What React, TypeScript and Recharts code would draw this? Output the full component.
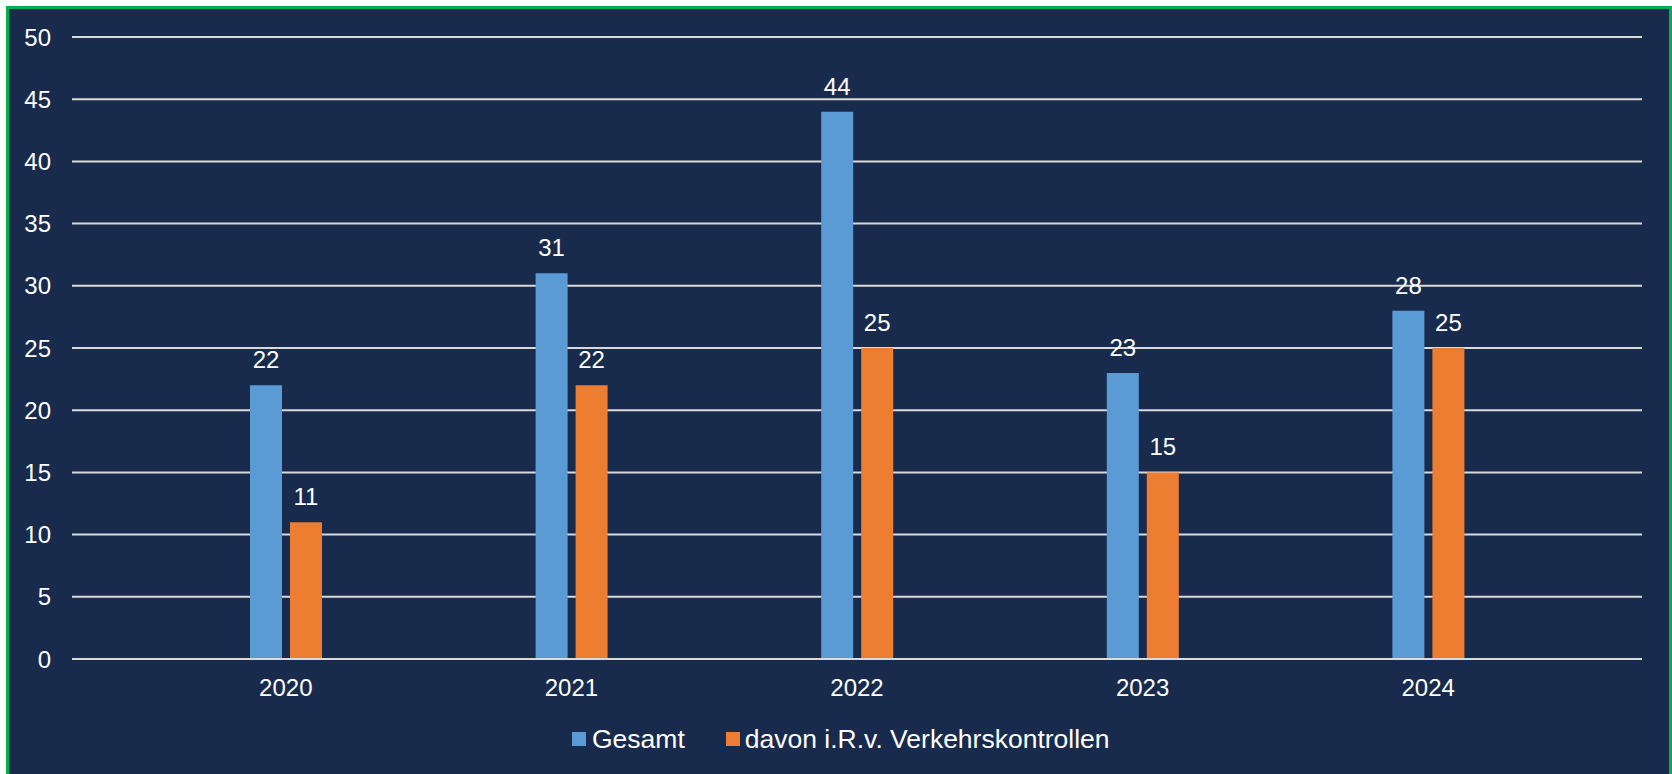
import { BarChart, Bar, XAxis, YAxis, CartesianGrid, Legend, LabelList } from 'recharts';

const years = ['2020', '2021', '2022', '2023', '2024'];
const gesamt = [22, 31, 44, 23, 28];
const verkehrskontrollen = [11, 22, 25, 15, 25];
const yTicks = [0, 5, 10, 15, 20, 25, 30, 35, 40, 45, 50];

const BG = '#182B4D';
const BLUE = '#5B9BD5';
const ORANGE = '#ED7D31';
const GRID = '#D9D9D9';
const FONT = '"Liberation Sans", Arial, sans-serif';

const data = years.map((year, i) => ({
  year,
  gesamt: gesamt[i],
  verkehr: verkehrskontrollen[i],
}));

function ChartLegend() {
  const box = { display: 'inline-block', width: 14, height: 14 };
  return (
    <div
      style={{
        display: 'flex',
        alignItems: 'center',
        fontSize: 26.5,
        lineHeight: '32px',
        color: '#FFFFFF',
        fontFamily: FONT,
        whiteSpace: 'nowrap',
      }}
    >
      <span style={{ ...box, background: BLUE, marginRight: 6 }} />
      <span style={{ marginRight: 41 }}>Gesamt</span>
      <span style={{ ...box, background: ORANGE, marginRight: 5 }} />
      <span>davon i.R.v. Verkehrskontrollen</span>
    </div>
  );
}

export default function App() {
  const tick = { fill: '#FFFFFF', fontSize: 24, fontFamily: FONT };
  return (
    <div
      style={{
        position: 'absolute',
        left: 6,
        top: 6,
        width: 1666,
        height: 768,
        boxSizing: 'border-box',
        border: '3px solid #00B050',
        borderBottom: 'none',
        background: BG,
      }}
    >
      <BarChart
        width={1660}
        height={765}
        data={data}
        margin={{ top: 28, right: 27, left: 0, bottom: 85 }}
        barSize={32}
        barGap={8}
        style={{ fontFamily: FONT }}
      >
        <CartesianGrid vertical={false} stroke={GRID} strokeWidth={2} />
        <XAxis
          dataKey="year"
          height={30}
          padding={{ left: 71, right: 71 }}
          axisLine={{ stroke: GRID, strokeWidth: 2 }}
          tickLine={false}
          tickSize={0}
          tickMargin={20}
          tick={tick}
        />
        <YAxis
          width={63}
          domain={[0, 50]}
          ticks={yTicks}
          axisLine={false}
          tickLine={false}
          tickSize={0}
          tickMargin={21}
          tick={tick}
        />
        <Legend
          verticalAlign="middle"
          layout="horizontal"
          content={<ChartLegend />}
          wrapperStyle={{ left: 563, top: 714, width: 'auto', height: 32 }}
        />
        <Bar dataKey="gesamt" name="Gesamt" fill={BLUE} isAnimationActive={false}>
          <LabelList dataKey="gesamt" position="top" offset={17} fill="#FFFFFF" fontSize={24} fontFamily={FONT} />
        </Bar>
        <Bar dataKey="verkehr" name="davon i.R.v. Verkehrskontrollen" fill={ORANGE} isAnimationActive={false}>
          <LabelList dataKey="verkehr" position="top" offset={17} fill="#FFFFFF" fontSize={24} fontFamily={FONT} />
        </Bar>
      </BarChart>
    </div>
  );
}
